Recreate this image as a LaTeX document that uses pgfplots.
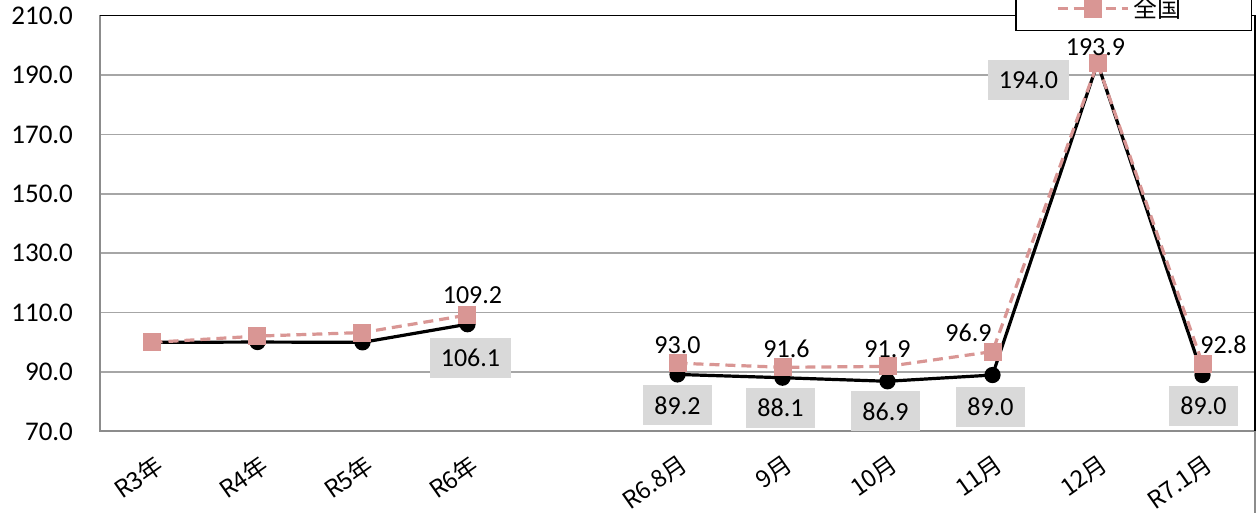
\documentclass[border=0pt]{standalone}
\usepackage{pgfplots}
\pgfplotsset{compat=1.18}
\usepackage{pgfplotstable}
\usepackage{fontspec}
\setmainfont{Carlito}
\newfontfamily\jp{Noto Sans CJK JP}
\definecolor{pinkc}{HTML}{D99694}
\definecolor{gridc}{HTML}{A6A6A6}
\definecolor{axc}{HTML}{8C8C8C}
\definecolor{boxc}{HTML}{D9D9D9}

\pgfplotstableread{
x y
0 100.0
1 100.1
2 100.0
3 106.1
4 nan
5 89.2
6 88.1
7 86.9
8 89.0
9 194.0
10 89.0
}\blk
\pgfplotstableread{
x y
0 100.0
1 102.1
2 103.3
3 109.2
4 nan
5 93.0
6 91.6
7 91.9
8 96.9
9 193.9
10 92.8
}\pnk
\pgfplotstableread{
x y dx dy
3 106.1 1.5 -17
5 89.2 0 -15.5
6 88.1 -1 -15
7 86.9 -1 -15
8 89.0 -1 -16
9 194.0 -34.5 -8.5
10 89.0 0.5 -15.5
}\blklab
\pgfplotstableread{
x y dx dy
3 109.2 2.5 10
5 93.0 0 9
6 91.6 2 9
7 91.9 0 8.5
8 96.9 -12 9.5
9 193.9 -1 8
10 92.8 10.5 9.5
}\pnklab

\begin{document}
\begin{tikzpicture}
\begin{axis}[
  name=ax, at={(0,0)}, anchor=south west,
  scale only axis, width=577.5pt, height=208pt,
  xmin=-0.5, xmax=10.5, ymin=70, ymax=210,
  ytick={70,90,...,210},
  xtick={0,1,2,3,5,6,7,8,9,10},
  xticklabels={R3年,R4年,R5年,R6年,R6.8月,9月,10月,11月,12月,R7.1月},
  ymajorgrids, grid style={gridc, line width=0.75pt},
  axis line style={draw=none},
  major tick length=0pt,
  unbounded coords=jump,
  clip=false,
  /pgf/number format/.cd, fixed, fixed zerofill, precision=1, assume math mode=true,
  /pgfplots/.cd,
  yticklabel style={font=\fontsize{13.5}{15}\selectfont, xshift=-10pt},
  xticklabel style={font=\jp\fontsize{12}{14}\selectfont, rotate=35, anchor=north east, inner sep=1pt, yshift=-8pt, xshift=-4.5pt},
  legend style={at={(rel axis cs:0.9974,0.9627)}, anchor=south east, draw=black, line width=0.75pt, fill=white, font=\jp\fontsize{12}{14}\selectfont, inner ysep=3pt},
  legend image code/.code={\path (-17pt,0pt); \draw[mark repeat=2,mark phase=2,#1] plot coordinates {(0pt,0pt) (17.5pt,0pt) (35pt,0pt)};},
]
\draw[axc, line width=1pt] (rel axis cs:0,1) -- (rel axis cs:0,0) -- (rel axis cs:1,0);
\draw[black, line width=0.75pt] (rel axis cs:0,1) -- (rel axis cs:1,1) -- (rel axis cs:1,0);
\addplot[black, line width=1.6pt, mark=*, mark size=3.25pt, forget plot] table[x=x,y=y]{\blk};
\addplot[pinkc, line width=1.6pt, dash pattern=on 5pt off 3pt, mark=square*, mark size=3.7pt, mark options={solid}] table[x=x,y=y]{\pnk};
\addlegendentry{全国\hspace*{30pt}}
\addplot[draw=none, mark=none, forget plot, nodes near coords, point meta=explicit,
  visualization depends on={\thisrow{dx}\as\dx},
  visualization depends on={\thisrow{dy}\as\dy},
  nodes near coords style={anchor=center, xshift=\dx pt, yshift=\dy pt, fill=boxc, text=black, inner xsep=5.5pt, minimum height=20pt, font=\fontsize{13}{15}\selectfont}]
  table[x=x,y=y,meta=y]{\blklab};
\addplot[draw=none, mark=none, forget plot, nodes near coords, point meta=explicit,
  visualization depends on={\thisrow{dx}\as\dx},
  visualization depends on={\thisrow{dy}\as\dy},
  nodes near coords style={anchor=center, xshift=\dx pt, yshift=\dy pt, text=black, inner sep=1pt, font=\fontsize{13}{15}\selectfont}]
  table[x=x,y=y,meta=y]{\pnklab};
\end{axis}
\draw[axc, line width=0.75pt] (ax.south east) -- ++(0,-45pt);
\pgfresetboundingbox
\path[use as bounding box] ([xshift=-50pt,yshift=-40.5pt]ax.south west) rectangle ([xshift=2.5pt,yshift=7.75pt]ax.north east);
\end{tikzpicture}
\end{document}
